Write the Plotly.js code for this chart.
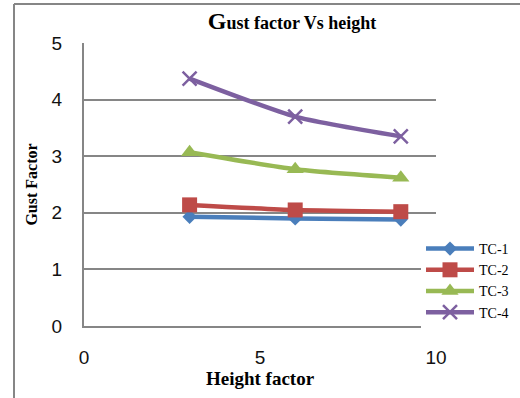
<!DOCTYPE html>
<html>
<head>
<meta charset="utf-8">
<script src="https://cdn.plot.ly/plotly-3.0.1.min.js"></script>
<style>html,body{margin:0;padding:0;background:#fff;}#chart{width:520px;height:398px;}</style>
</head>
<body>
<div id="chart"></div>
<script>
const heightFactor = [3, 6, 9];
const seriesNames = ['TC-1', 'TC-2', 'TC-3', 'TC-4'];
const tc1 = [1.93, 1.90, 1.88];
const tc2 = [2.14, 2.05, 2.02];
const tc3 = [3.07, 2.77, 2.62];
const tc4 = [4.37, 3.70, 3.35];
const xTicks = [0, 5, 10];
const yTicks = [0, 1, 2, 3, 4, 5];

const colors = ['#4A7EBB', '#BE4B48', '#98B954', '#7D60A0'];
const symbols = ['diamond', 'square', 'triangle-up', 'x-thin-open'];
const sizes = [11, 15, 15, 14];
const vals = [tc1, tc2, tc3, tc4];

const traces = vals.map((v, i) => ({
  x: heightFactor, y: v, name: seriesNames[i], type: 'scatter', mode: 'lines+markers',
  line: {color: colors[i], width: 4.5, shape: 'spline', smoothing: 0.6},
  marker: {symbol: symbols[i], size: sizes[i], color: colors[i],
           line: {color: colors[i], width: i === 3 ? 2.5 : 0}},
  cliponaxis: false
}));

const L = 84, R = 436, T = 43, B = 326;
const W = 520, H = 398;
function px(x){ return (x - L) / (R - L); }
function py(y){ return (B - y) / (B - T); }

const layout = {
  width: W, height: H,
  margin: {l: L, r: W - R, t: T, b: H - B, pad: 0, autoexpand: false},
  paper_bgcolor: '#ffffff', plot_bgcolor: '#ffffff',
  showlegend: true,
  title: {
    text: '<b><span style="font-size:24px">G</span>ust factor Vs height</b>',
    font: {family: 'Liberation Serif', size: 18, color: '#000'},
    x: px(292), xanchor: 'center', xref: 'paper',
    y: 1 - 23 / H, yanchor: 'middle', yref: 'container'
  },
  xaxis: {
    range: [0, 10], tickvals: xTicks, ticktext: xTicks.map(String),
    showgrid: false, zeroline: false, showline: true, linecolor: '#868686', linewidth: 2,
    ticks: '', ticklabelstandoff: 13,
    tickfont: {family: 'Liberation Sans', size: 19, color: '#111'},
    title: {text: '<b>Height factor</b>', font: {family: 'Liberation Serif', size: 19, color: '#000'}, standoff: 4}
  },
  yaxis: {
    range: [0, 5], tickvals: yTicks, ticktext: yTicks.map(String),
    showgrid: true, gridcolor: '#868686', gridwidth: 2,
    zeroline: false, showline: true, linecolor: '#868686', linewidth: 2,
    ticks: '', ticklabelstandoff: 16,
    tickfont: {family: 'Liberation Sans', size: 19, color: '#111'},
    title: {text: '<b>Gust Factor</b>', font: {family: 'Liberation Serif', size: 16, color: '#000'}, standoff: 10}
  },
  legend: {
    x: px(421), xanchor: 'left', y: py(233), yanchor: 'top',
    bgcolor: 'rgba(255,255,255,1)', borderwidth: 0,
    font: {family: 'Liberation Serif', size: 14, color: '#000'},
    itemwidth: 48, tracegroupgap: 0
  },
  shapes: [
    {type: 'line', xref: 'paper', yref: 'paper', x0: px(14), x1: px(14), y0: py(4), y1: py(420), line: {color: '#868686', width: 2}},
    {type: 'line', xref: 'paper', yref: 'paper', x0: px(14), x1: px(540), y0: py(4), y1: py(4), line: {color: '#868686', width: 2}}
  ]
};

Plotly.newPlot('chart', traces, layout, {displayModeBar: false, staticPlot: true});
</script>
</body>
</html>
